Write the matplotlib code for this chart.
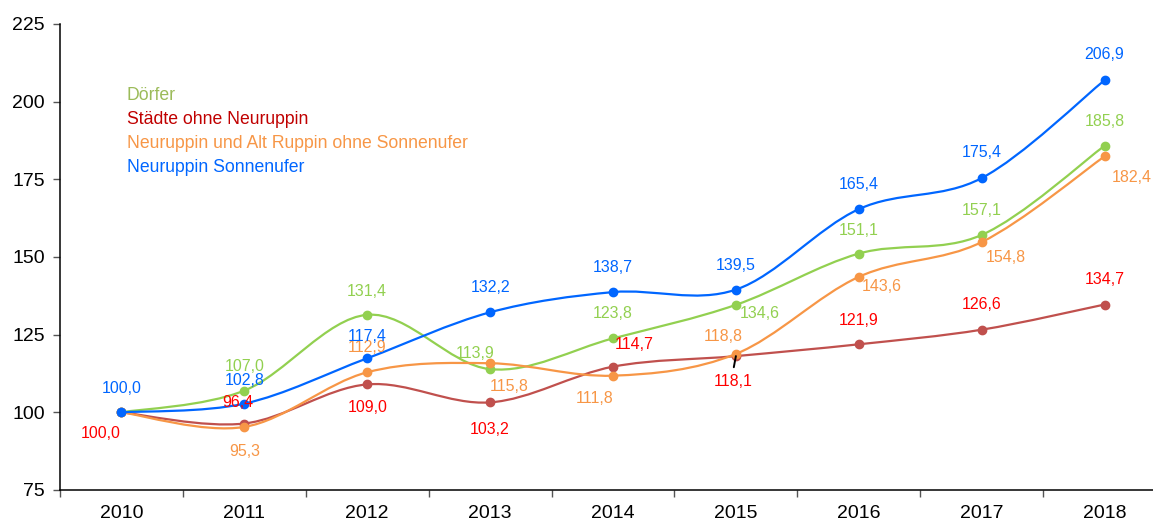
import numpy as np
import matplotlib
matplotlib.use("Agg")
import matplotlib.pyplot as plt
from matplotlib.path import Path
from matplotlib.patches import PathPatch

plt.rcParams['font.family'] = ['Liberation Sans', 'DejaVu Sans']

years = ["2010", "2011", "2012", "2013", "2014", "2015", "2016", "2017", "2018"]
series_names = ["Dörfer", "Städte ohne Neuruppin",
                "Neuruppin und Alt Ruppin ohne Sonnenufer", "Neuruppin Sonnenufer"]
doerfer = [100.0, 107.0, 131.4, 113.9, 123.8, 134.6, 151.1, 157.1, 185.8]
staedte = [100.0, 96.4, 109.0, 103.2, 114.7, 118.1, 121.9, 126.6, 134.7]
neuruppin = [100.0, 95.3, 112.9, 115.8, 111.8, 118.8, 143.6, 154.8, 182.4]
sonnenufer = [100.0, 102.8, 117.4, 132.2, 138.7, 139.5, 165.4, 175.4, 206.9]

line_colors = ["#92D050", "#C0504D", "#F79646", "#0066FF"]
label_colors = ["#92D050", "#FF0000", "#F79646", "#0066FF"]
legend_colors = ["#9BBB59", "#C00000", "#F79646", "#0066FF"]

# label offsets in pixels (dx right, dy up); None = no label
off_green = [None, (0, 24), (0, 23), (-15, 16), (0, 25), (24, -9), (0, 23), (0, 24), (0, 24)]
off_red = [(-21, -21), (-7, 21), (0, -23), (0, -27), (21, 22), (-3, -25), (0, 24), (0, 25), (0, 25)]
off_orange = [None, (0, -25), (0, 25), (19, -23), (-18, -23), (-13, 17), (23, -10), (24, -15), (27, -21)]
off_blue = [(0, 24), (0, 23), (0, 22), (0, 25), (0, 25), (0, 24), (0, 25), (0, 26), (0, 26)]

W, H = 1153, 525
fig = plt.figure(figsize=(W / 100, H / 100), dpi=100)
ax = fig.add_axes([60 / W, 35 / H, (1166 - 60) / W, (490 - 24) / H])

x = np.arange(len(years))


def smooth_path(xs, ys):
    pts = np.column_stack([xs, ys]).astype(float)
    n = len(pts)
    verts = [pts[0]]
    codes = [Path.MOVETO]
    for i in range(n - 1):
        p0 = pts[i - 1] if i > 0 else pts[i]
        p1 = pts[i]
        p2 = pts[i + 1]
        p3 = pts[i + 2] if i + 2 < n else pts[i + 1]
        c1 = p1 + (p2 - p0) / 6.0
        c2 = p2 - (p3 - p1) / 6.0
        verts += [c1, c2, p2]
        codes += [Path.CURVE4] * 3
    return Path(verts, codes)


all_series = [doerfer, staedte, neuruppin, sonnenufer]
all_offsets = [off_green, off_red, off_orange, off_blue]
for k, (vals, offs) in enumerate(zip(all_series, all_offsets)):
    z = 2 + k
    patch = PathPatch(smooth_path(x, vals), facecolor='none', edgecolor=line_colors[k],
                      lw=1.6, zorder=z, capstyle='round', joinstyle='round')
    ax.add_patch(patch)
    ax.plot(x, vals, 'o', color=line_colors[k], markersize=6, zorder=z + 0.1)
    for i, v in enumerate(vals):
        if offs[i] is None:
            continue
        dx, dy = offs[i]
        ax.annotate(f"{v:.1f}".replace('.', ','), xy=(x[i], v),
                    xytext=(dx * 0.72, dy * 0.72), textcoords='offset points',
                    ha='center', va='center', fontsize=11.5, color=label_colors[k],
                    zorder=10)

# leader line for Städte 2015 label
ax.annotate('', xy=(x[5], staedte[5]), xytext=(-1.5, -8), textcoords='offset points',
            arrowprops=dict(arrowstyle='-', color='black', lw=1.4, shrinkA=0, shrinkB=0),
            zorder=11)

ax.set_xlim(-0.5, len(years) - 0.5)
ax.set_ylim(75, 225)
ax.set_yticks([75, 100, 125, 150, 175, 200, 225])
ax.set_xticks(x)
ax.set_xticklabels(years)
ax.set_xticks(np.arange(-0.5, len(years), 1.0), minor=True)
ax.tick_params(axis='x', which='major', length=0, labelsize=14, pad=11)
ax.tick_params(axis='x', which='minor', length=5, width=1, direction='out', color='#555555')
ax.tick_params(axis='y', length=5, width=1, direction='out', labelsize=14, pad=6, color='#555555')
for s in ['top', 'right']:
    ax.spines[s].set_visible(False)
for s in ['left', 'bottom']:
    ax.spines[s].set_linewidth(1.1)
    ax.spines[s].set_color('black')

# legend as text
leg_y = [95, 119, 143, 167]
for name, c, yy in zip(series_names, legend_colors, leg_y):
    fig.text(127 / W, (H - yy) / H, name, color=c, fontsize=12.7, ha='left', va='center')

fig.savefig("out.png", dpi=100)
